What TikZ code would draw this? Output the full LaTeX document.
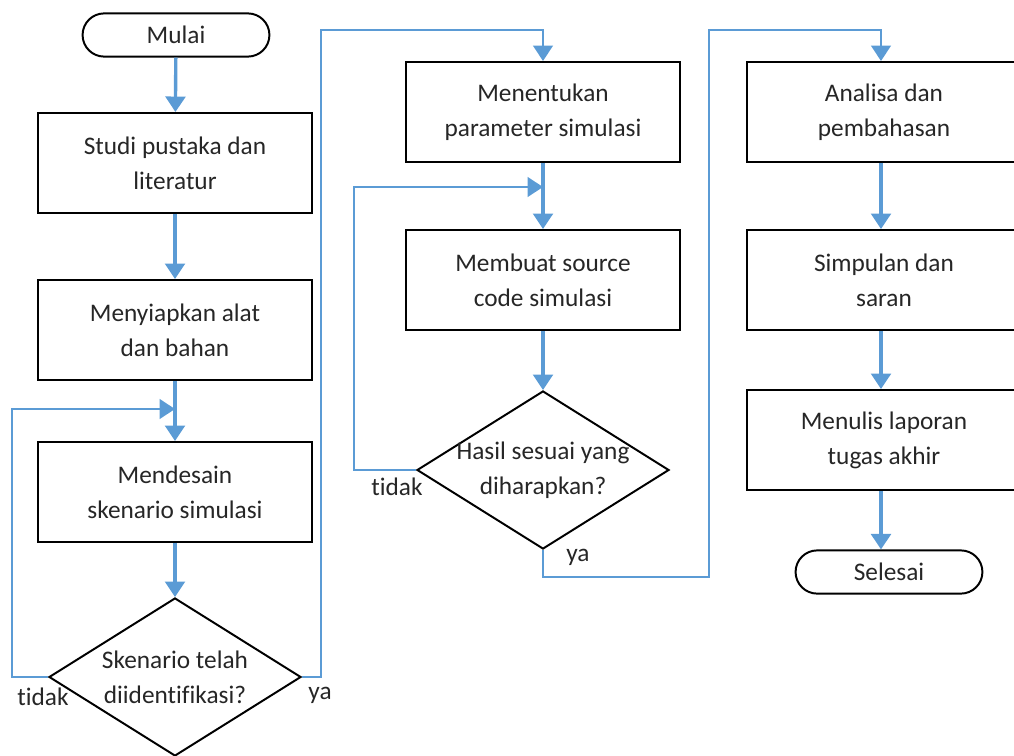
\documentclass[tikz,border=0pt]{standalone}
\usepackage{fontspec}
\setmainfont{Carlito}[Ligatures=NoCommon]
\usetikzlibrary{shapes.geometric,shapes.misc,arrows.meta}
\definecolor{flowblue}{RGB}{91,155,213}

\begin{document}
\begin{tikzpicture}[x=0.025cm, y=-0.025cm,
  every node/.style={font=\fontsize{18}{25}\selectfont, align=center, text=black!85},
  proc/.style={draw, line width=1.4pt, minimum width=6.83cm, minimum height=2.5cm, inner sep=0pt},
  term/.style={draw, rounded rectangle, line width=1.4pt, minimum width=4.67cm, minimum height=1.08cm, inner sep=0pt},
  decision/.style={draw, diamond, line width=1.4pt, minimum width=6.3cm, minimum height=3.95cm, inner sep=0pt},
  flow/.style={draw=flowblue, line width=2.4pt, -{Triangle[width=14pt,length=11pt]}},
  route/.style={flow, line width=1.8pt},
  lbl/.style={inner sep=1pt}]
  \useasboundingbox (0,0) rectangle (1014,756);

  % Column 1: preparation
  \node[term] (mulai) at (176,35) {Mulai};
  \node[proc] (studi) at (175,163) {Studi pustaka dan\\literatur};
  \node[proc] (siap) at (175,330) {Menyiapkan alat\\dan bahan};
  \node[proc] (desain) at (175,492) {Mendesain\\skenario simulasi};
  \node[decision, label=center:{Skenario telah\\diidentifikasi?}] (cek1) at (175,677) {};
  \node[lbl] (tidak1) at ([shift={(-5,20)}]cek1.west) {tidak};
  \node[lbl] (ya1) at ([shift={(18,18)}]cek1.east) {ya};

  % Column 2: simulation
  \node[proc] (tentukan) at (543,112) {Menentukan\\parameter simulasi};
  \node[proc] (buat) at (543,280) {Membuat source\\code simulasi};
  \node[decision, label=center:{Hasil sesuai yang\\diharapkan?}] (cek2) at (543,470) {};
  \node[lbl] (tidak2) at ([shift={(-19,17)}]cek2.west) {tidak};
  \node[lbl] (ya2) at ([shift={(35,7)}]cek2.south) {ya};

  % Column 3: reporting
  \node[proc] (analisa) at (884,112) {Analisa dan\\pembahasan};
  \node[proc] (simpulan) at (884,280) {Simpulan dan\\saran};
  \node[proc] (tulis) at (884,440) {Menulis laporan\\tugas akhir};
  \node[term] (selesai) at (889,572) {Selesai};

  % Join points and corners
  \coordinate (j1) at (175,409);
  \coordinate (j2) at (543,187);
  \coordinate (top2) at (543,30);
  \coordinate (top3) at (881,30);

  % Arrows
  \draw[flow] (mulai) -- (studi);
  \draw[flow] (studi) -- (siap);
  \draw[flow] (siap) -- (desain);
  \draw[flow] (desain) -- (cek1);
  \draw[route] (cek1.west) -- ++(-36,0) |- (j1);
  \draw[route] (cek1.east) -- ++(19,0) |- (top2) -- (tentukan);

  \draw[flow] (tentukan) -- (buat);
  \draw[flow] (buat) -- (cek2);
  \draw[route] (cek2.west) -- ++(-62,0) |- (j2);
  \draw[route] (cek2.south) |- ++(166,27) |- (top3) -- (top3 |- analisa.north);

  \draw[flow] (analisa.south -| top3) -- (top3 |- simpulan.north);
  \draw[flow] (simpulan.south -| top3) -- (top3 |- tulis.north);
  \draw[flow] (tulis.south -| top3) -- (top3 |- selesai.north);
\end{tikzpicture}
\end{document}
